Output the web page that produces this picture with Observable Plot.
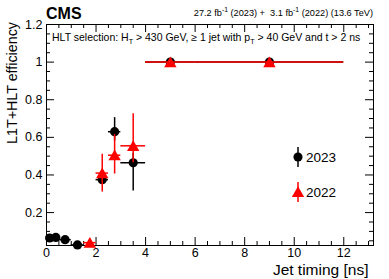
<!DOCTYPE html>
<html><head><meta charset="utf-8">
<script src="https://cdn.jsdelivr.net/npm/d3@7"></script>
<script src="https://cdn.jsdelivr.net/npm/@observablehq/plot@0.6"></script>
<style>body{margin:0;background:#fff} svg{font-family:"Liberation Sans",Arial,sans-serif}</style>
</head><body><div id="chart"></div>
<script>
// 2023 data (black circles)
const x2023 = [0.125, 0.375, 0.75, 1.25, 2.25, 2.75, 3.5, 5, 9];
const xLo2023 = [0, 0.25, 0.5, 1.0, 2.0, 2.5, 3.0, 4, 6];
const xHi2023 = [0.25, 0.5, 1.0, 1.5, 2.5, 3.0, 4.0, 6, 12];
const eff2023 = [0.065, 0.068, 0.056, 0.028, 0.375, 0.63, 0.465, 1.0, 1.0];
const errLo2023 = [0.004, 0.004, 0.004, 0.004, 0.02, 0.05, 0.15, 0, 0];
const errHi2023 = [0.004, 0.004, 0.004, 0.004, 0.02, 0.075, 0.05, 0, 0];
// 2022 data (red triangles)
const x2022 = [1.75, 2.25, 2.75, 3.5, 5, 9];
const xLo2022 = [1.5, 2.0, 2.5, 3.0, 4, 6];
const xHi2022 = [2.0, 2.5, 3.0, 4.0, 6, 12];
const eff2022 = [0.04, 0.41, 0.505, 0.555, 1.0, 1.0];
const errLo2022 = [0.01, 0.1, 0.1, 0.09, 0, 0];
const errHi2022 = [0.01, 0.1, 0.11, 0.17, 0, 0];
// axes
const xDomain = [0, 13.2];
const yDomain = [0.025, 1.2];
const xMajor = [0, 2, 4, 6, 8, 10, 12];
const xMinor = d3.range(0.5, 13.01, 0.5).filter(v => v % 2 !== 0);
const yMajor = [0.2, 0.4, 0.6, 0.8, 1.0, 1.2];
const yMinor = [0.05, 0.1, 0.15, 0.25, 0.3, 0.35, 0.45, 0.5, 0.55, 0.65, 0.7, 0.75, 0.85, 0.9, 0.95, 1.05, 1.1, 1.15];
const years = ["2023", "2022"];

const W = 389, H = 279, mL = 46, mR = 16, mT = 24, mB = 34;
const pw = W - mL - mR, ph = H - mT - mB;

const d23 = x2023.map((x, i) => ({x, xlo: xLo2023[i], xhi: xHi2023[i], y: eff2023[i], ylo: eff2023[i] - errLo2023[i], yhi: eff2023[i] + errHi2023[i]}));
const d22 = x2022.map((x, i) => ({x, xlo: xLo2022[i], xhi: xHi2022[i], y: eff2022[i], ylo: eff2022[i] - errLo2022[i], yhi: eff2022[i] + errHi2022[i]}));

const RED = "#ff0000";
const plot = Plot.plot({
  width: W, height: H,
  marginLeft: mL, marginRight: mR, marginTop: mT, marginBottom: mB,
  style: {fontFamily: "Liberation Sans, Arial, sans-serif", fontSize: "12.5px", background: "white", overflow: "visible"},
  x: {domain: xDomain, label: null},
  y: {domain: yDomain, label: null},
  marks: [
    // inward ticks
    Plot.tickX(xMajor, {x: d => d, insetTop: ph - 8, stroke: "black"}),
    Plot.tickX(xMajor, {x: d => d, insetBottom: ph - 8, stroke: "black"}),
    Plot.tickX(xMinor, {x: d => d, insetTop: ph - 4, stroke: "black"}),
    Plot.tickX(xMinor, {x: d => d, insetBottom: ph - 4, stroke: "black"}),
    Plot.tickY(yMajor, {y: d => d, insetRight: pw - 8, stroke: "black"}),
    Plot.tickY(yMajor, {y: d => d, insetLeft: pw - 8, stroke: "black"}),
    Plot.tickY(yMinor, {y: d => d, insetRight: pw - 4, stroke: "black"}),
    Plot.tickY(yMinor, {y: d => d, insetLeft: pw - 4, stroke: "black"}),
    Plot.axisX({ticks: xMajor, tickSize: 0, tickPadding: 3, tickFormat: d => String(d), label: null}),
    Plot.axisY({ticks: yMajor, tickSize: 0, tickPadding: 4, tickFormat: d => String(+d.toFixed(1)), label: null}),
    Plot.frame({stroke: "black", strokeWidth: 1}),
    // 2023 error bars and markers
    Plot.ruleY(d23, {y: "y", x1: "xlo", x2: "xhi", stroke: "black", strokeWidth: 1.5}),
    Plot.ruleX(d23, {x: "x", y1: "ylo", y2: "yhi", stroke: "black", strokeWidth: 1.5}),
    Plot.dot(d23, {x: "x", y: "y", r: 4.6, fill: "black", stroke: "none"}),
    // 2022 error bars and markers
    Plot.ruleY(d22, {y: "y", x1: "xlo", x2: "xhi", stroke: RED, strokeWidth: 1.5}),
    Plot.ruleX(d22, {x: "x", y1: "ylo", y2: "yhi", stroke: RED, strokeWidth: 1.5}),
    Plot.dot(d22, {x: "x", y: "y", symbol: "triangle", r: 4.6, dy: 1.5, fill: RED, stroke: "none"})
  ]
});
const svg = d3.select(plot);
// legend (pixel layout)
const leg = svg.append("g").attr("text-anchor", "start");
[[years[0], 157, "black", d3.symbolCircle, 66, 0], [years[1], 192, RED, d3.symbolTriangle, 66, 1.5]].forEach(([lab, cy, col, sym, size, off]) => {
  leg.append("line").attr("x1", 298).attr("x2", 298).attr("y1", cy - 10).attr("y2", cy + 10).attr("stroke", col).attr("stroke-width", 1.5);
  leg.append("path").attr("transform", `translate(298,${cy + off})`).attr("d", d3.symbol(sym, size)()).attr("fill", col);
  leg.append("text").attr("x", 306).attr("y", cy + 5).attr("font-size", 13.5).text(lab);
});
// CMS label
svg.append("text").attr("x", 46).attr("y", 18.5).attr("text-anchor", "start").attr("font-weight", "bold").attr("font-size", 16).text("CMS");
// lumi
const lumi = svg.append("text").attr("x", 373).attr("y", 16).attr("text-anchor", "end").attr("font-size", 9.2);
lumi.append("tspan").text("27.2 fb");
lumi.append("tspan").attr("dy", -4).attr("font-size", 6.8).text("-1");
lumi.append("tspan").attr("dy", 4).text(" (2023) +  3.1 fb");
lumi.append("tspan").attr("dy", -4).attr("font-size", 6.8).text("-1");
lumi.append("tspan").attr("dy", 4).text(" (2022) (13.6 TeV)");
// selection annotation
const sel = svg.append("text").attr("x", 52).attr("y", 41).attr("text-anchor", "start").attr("font-size", 10.5);
sel.append("tspan").text("HLT selection: H");
sel.append("tspan").attr("dy", 3).attr("font-size", 7.2).text("T");
sel.append("tspan").attr("dy", -3).text(" > 430 GeV, \u2265 1 jet with p");
sel.append("tspan").attr("dy", 3).attr("font-size", 7.2).text("T");
sel.append("tspan").attr("dy", -3).text(" > 40 GeV and t > 2 ns");
// axis titles
svg.append("text").attr("transform", "translate(16.5,22) rotate(-90)").attr("text-anchor", "end").attr("font-size", 14.3).text("L1T+HLT efficiency");
svg.append("text").attr("x", 368.5).attr("y", 275).attr("text-anchor", "end").attr("font-size", 15.5).text("Jet timing [ns]");
document.getElementById("chart").append(plot);
</script></body></html>
